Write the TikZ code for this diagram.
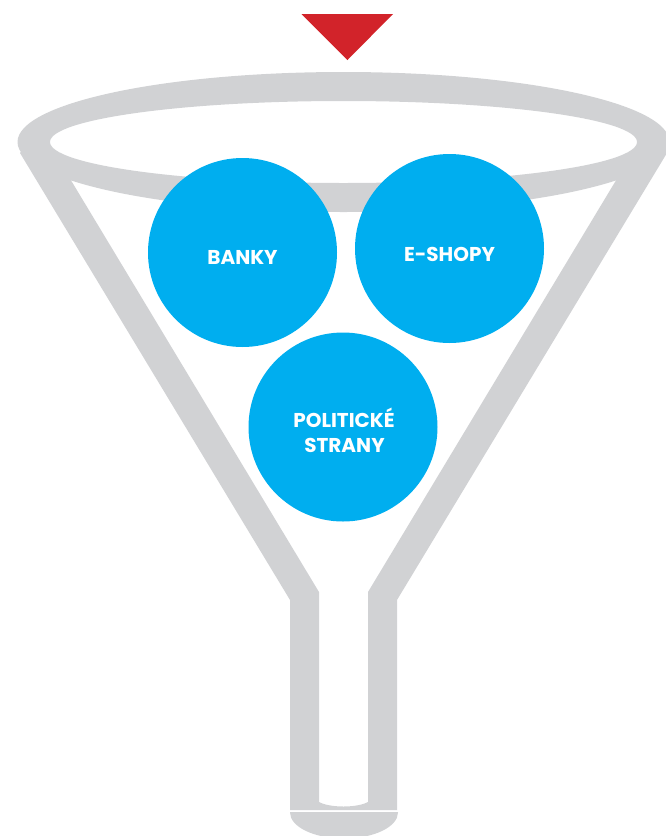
\documentclass[tikz,border=0pt]{standalone}
\usepackage{fontspec}
\setmainfont{Poppins}
\definecolor{funnelgray}{HTML}{D1D2D4}
\definecolor{bubbleblue}{HTML}{00AEEF}
\definecolor{dropred}{HTML}{D2232A}
\tikzset{
	bubble/.style={circle, fill=bubbleblue, minimum size=189pt, inner sep=0pt},
	bubbletext/.style={anchor=base, text=white, inner sep=0pt, font=\fontsize{20}{25}\selectfont\bfseries}
}
\begin{document}
\begin{tikzpicture}[x=1pt,y=-1pt]
		\useasboundingbox (0,0) rectangle (666,836);
		\fill[dropred] (301.5,14) -- (393,14) -- (347.5,60) -- cycle;
		\fill[funnelgray] (30,140) -- (20,153) -- (290,600) -- (290,810) -- (397,810) -- (397,600) -- (667,153) -- (657,140) -- (627,165) -- (615,182) -- (368,592) -- (368,802) .. controls (357,808) and (330,808) .. (319,802) -- (319,592) -- (72,182) -- (60,165) -- cycle;
		\fill[funnelgray, even odd rule] (343.5,142) ellipse (326pt and 70pt) (343.5,142) ellipse (293.5pt and 41pt);
		\begin{scope}
			\clip (280,812.5) rectangle (410,850);
			\fill[funnelgray] (344,812.5) ellipse (54pt and 26pt);
		\end{scope}
		\node[bubble] (banky) at (242.5,252.5) {};
		\node[bubble] (eshopy) at (449.5,248.5) {};
		\node[bubble] (parties) at (343,427) {};
		\node[bubbletext] (banky text) at (242.5,264) {BANKY};
		\node[bubbletext] (eshopy text) at (449.5,261) {E-SHOPY};
		\node[bubbletext] (parties text) at (344,427) {POLITICKÉ};
		\node[bubbletext] (parties text2) at (344.5,452) {STRANY};
\end{tikzpicture}
\end{document}
